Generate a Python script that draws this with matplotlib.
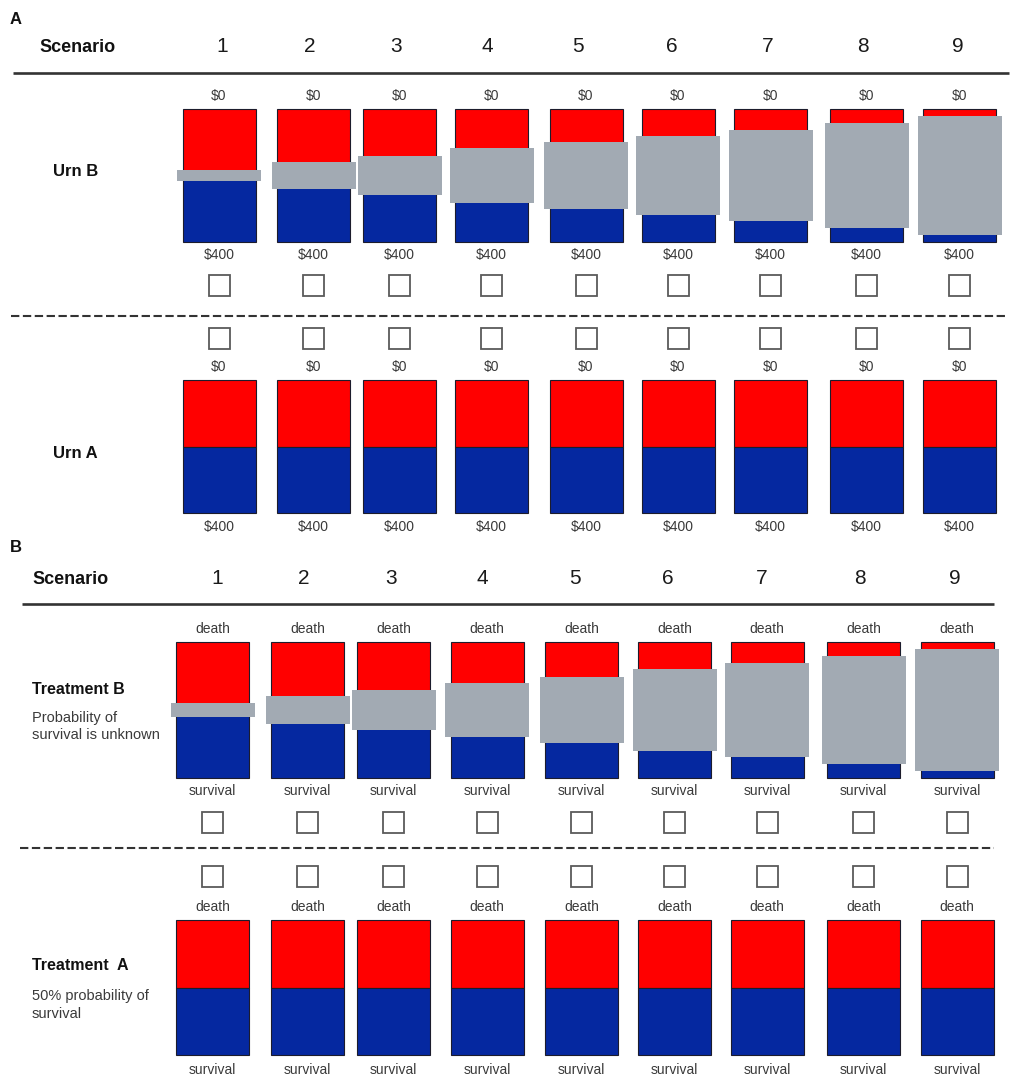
import matplotlib
matplotlib.use("Agg")
import matplotlib.pyplot as plt
from matplotlib.patches import Rectangle

plt.rcParams['font.family'] = ['Liberation Sans', 'DejaVu Sans']

# ---------------- data ----------------
scenarios = ['1', '2', '3', '4', '5', '6', '7', '8', '9']
# share of the ambiguous (grey) zone in each ambiguous urn / treatment
ambiguity_A = [0.09, 0.20, 0.29, 0.41, 0.50, 0.59, 0.69, 0.79, 0.89]
ambiguity_B = [0.10, 0.20, 0.29, 0.40, 0.49, 0.60, 0.69, 0.79, 0.90]
# known share of the bad outcome (red, top)
known_share = [0.5, 0.5, 0.5, 0.5, 0.5, 0.5, 0.5, 0.5, 0.5]
top_labels_A = ['$0'] * 9
bottom_labels_A = ['$400'] * 9
top_labels_B = ['death'] * 9
bottom_labels_B = ['survival'] * 9

# ---------------- layout ----------------
W, H = 1021, 1091
xc_A = [219, 313.5, 399.5, 491.5, 586, 678, 770.5, 866.5, 959.5]
xc_B = [212.5, 307.5, 393.5, 487, 581.5, 674.5, 767, 863.5, 957]
num_x_A = [222, 310, 396, 487, 578, 672, 768, 863, 958]
num_x_B = [217, 304, 391, 482, 575, 668, 762, 860, 955]
BAR_W = 73
GREY_W = 84

RED = '#FF0000'
BLUE = '#0528A0'
GREY = '#A2AAB3'
EDGE = '#1c1c2c'
TXT = '#3a3a3a'

fig = plt.figure(figsize=(W / 100, H / 100), dpi=100)
ax = fig.add_axes([0, 0, 1, 1])
ax.set_xlim(0, W)
ax.set_ylim(H, 0)
ax.axis('off')


def bars(xc, top, bottom, red_share, amb=None):
    h = bottom - top
    red_h = [s * h for s in red_share]
    blue_h = [(1 - s) * h for s in red_share]
    ax.bar(xc, red_h, width=BAR_W, bottom=top, color=RED, edgecolor=EDGE,
           linewidth=0.8, zorder=2)
    ax.bar(xc, blue_h, width=BAR_W, bottom=[top + r for r in red_h],
           color=BLUE, edgecolor=EDGE, linewidth=0.8, zorder=2)
    if amb is not None:
        mids = [top + r for r in red_h]
        ax.bar(xc, [a * h for a in amb], width=GREY_W,
               bottom=[m - a * h / 2 for m, a in zip(mids, amb)],
               color=GREY, edgecolor='none', zorder=3)


def labels(xc, y, texts, size=10):
    for x, t in zip(xc, texts):
        ax.text(x, y, t, ha='center', va='center', fontsize=size, color=TXT)


def checkboxes(xc, y, size=21):
    for x in xc:
        ax.add_patch(Rectangle((x - size / 2, y - size / 2), size, size,
                               facecolor='white', edgecolor='#5a5a5a',
                               linewidth=1.3, zorder=2))


def header(label_x, y, num_x, line_y, x0, x1):
    ax.text(label_x, y + 2, 'Scenario', ha='left', va='center',
            fontsize=13, fontweight='bold', color='#111111')
    for x, s in zip(num_x, scenarios):
        ax.text(x, y, s, ha='center', va='center', fontsize=15,
                color='#1a1a1a')
    ax.plot([x0, x1], [line_y, line_y], color='#333333', lw=1.9,
            solid_capstyle='butt')


# ================= Panel A =================
ax.text(10, 20, 'A', ha='left', va='center', fontsize=12,
        fontweight='bold', color='#111111')
header(39, 46, num_x_A, 73, 13, 1009)

# Urn B (ambiguous)
labels(xc_A, 96, top_labels_A)
bars(xc_A, 109, 242, known_share, ambiguity_A)
labels(xc_A, 255, bottom_labels_A)
checkboxes(xc_A, 285)
ax.text(53, 171, 'Urn B', ha='left', va='center', fontsize=12,
        fontweight='bold', color='#111111')

ax.plot([11, 1007], [316, 316], color='#333333', lw=1.5,
        linestyle=(0, (4, 1.7)))

# Urn A (known)
checkboxes(xc_A, 338)
labels(xc_A, 367, top_labels_A)
bars(xc_A, 380, 513, known_share)
labels(xc_A, 527, bottom_labels_A)
ax.text(53, 454, 'Urn A', ha='left', va='center', fontsize=12,
        fontweight='bold', color='#111111')

# ================= Panel B =================
ax.text(10, 548, 'B', ha='left', va='center', fontsize=12,
        fontweight='bold', color='#111111')
header(32, 578, num_x_B, 604, 22, 994)

# Treatment B (ambiguous)
labels(xc_B, 629, top_labels_B)
bars(xc_B, 642, 778, known_share, ambiguity_B)
labels(xc_B, 791, bottom_labels_B)
checkboxes(xc_B, 822)
ax.text(32, 690, 'Treatment B', ha='left', va='center', fontsize=11.5,
        fontweight='bold', color='#111111')
ax.text(32, 718, 'Probability of', ha='left', va='center', fontsize=10.5,
        color=TXT)
ax.text(32, 735, 'survival is unknown', ha='left', va='center',
        fontsize=10.5, color=TXT)

ax.plot([20, 994], [848, 848], color='#333333', lw=1.5,
        linestyle=(0, (4, 1.7)))

# Treatment A (known)
checkboxes(xc_B, 876)
labels(xc_B, 907, top_labels_B)
bars(xc_B, 920, 1055, known_share)
labels(xc_B, 1070, bottom_labels_B)
ax.text(32, 966, 'Treatment  A', ha='left', va='center', fontsize=11.5,
        fontweight='bold', color='#111111')
ax.text(32, 996, '50% probability of', ha='left', va='center',
        fontsize=10.5, color=TXT)
ax.text(32, 1014, 'survival', ha='left', va='center', fontsize=10.5,
        color=TXT)

fig.savefig('out.png', dpi=100, facecolor='white')
